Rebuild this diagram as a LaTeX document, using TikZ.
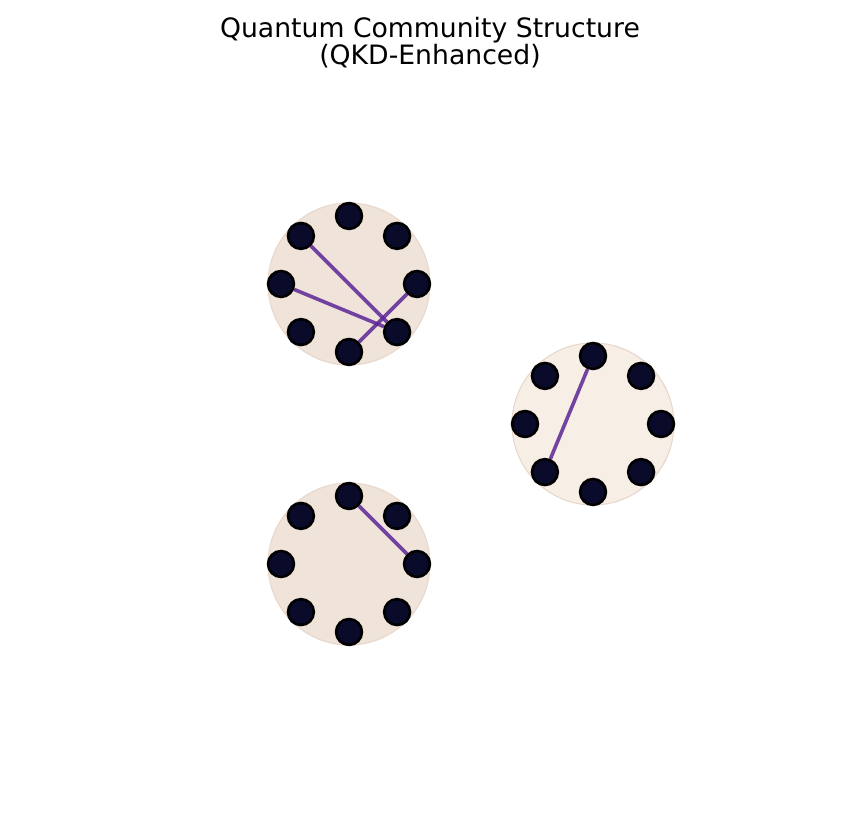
\documentclass[tikz,border=0pt]{standalone}
\usepackage{fontspec}
\setmainfont{DejaVu Sans}
\usetikzlibrary{backgrounds}
\definecolor{commfill}{RGB}{240,228,218}
\definecolor{commlite}{RGB}{247,238,230}
\definecolor{commrim}{RGB}{232,216,202}
\definecolor{qbit}{RGB}{10,10,42}
\definecolor{qkd}{RGB}{92,38,150}

\begin{document}
\begin{tikzpicture}[x=0.72pt, y=0.72pt]
\useasboundingbox (0,0) rectangle (840,840);
\tikzstyle{comm}=[circle, draw=commrim, line width=0.8pt, minimum size=116.6pt, inner sep=0pt]
\tikzstyle{qubit}=[circle, fill=qbit, draw=black, line width=1.9pt, minimum size=18.6pt, inner sep=0pt]
\tikzstyle{qlink}=[draw=qkd, draw opacity=0.85, line width=2.6pt]
\node[font=\fontsize{19.2}{19.4}\selectfont, align=center, anchor=north, inner sep=0pt] (title)
  at (430,822.7) {Quantum Community Structure\\(QKD-Enhanced)};
% communities
\begin{scope}[on background layer]
\node[comm, fill=commfill] (comm1) at (349,556) {};
\node[comm, fill=commlite] (comm2) at (593,416) {};
\node[comm, fill=commfill] (comm3) at (349,276) {};
\end{scope}
\foreach \c in {1,2,3}
  \foreach \k in {0,...,7}
    \node[qubit] (q\c-\k) at ([shift={(\k*45:68)}]comm\c.center) {};
% qkd links
\begin{scope}[on background layer]
\draw[qlink] (q1-3) -- (q1-7);
\draw[qlink] (q1-4) -- (q1-7);
\draw[qlink] (q1-0) -- (q1-6);
\draw[qlink] (q2-2) -- (q2-5);
\draw[qlink] (q3-2) -- (q3-0);
\end{scope}
\end{tikzpicture}
\end{document}
